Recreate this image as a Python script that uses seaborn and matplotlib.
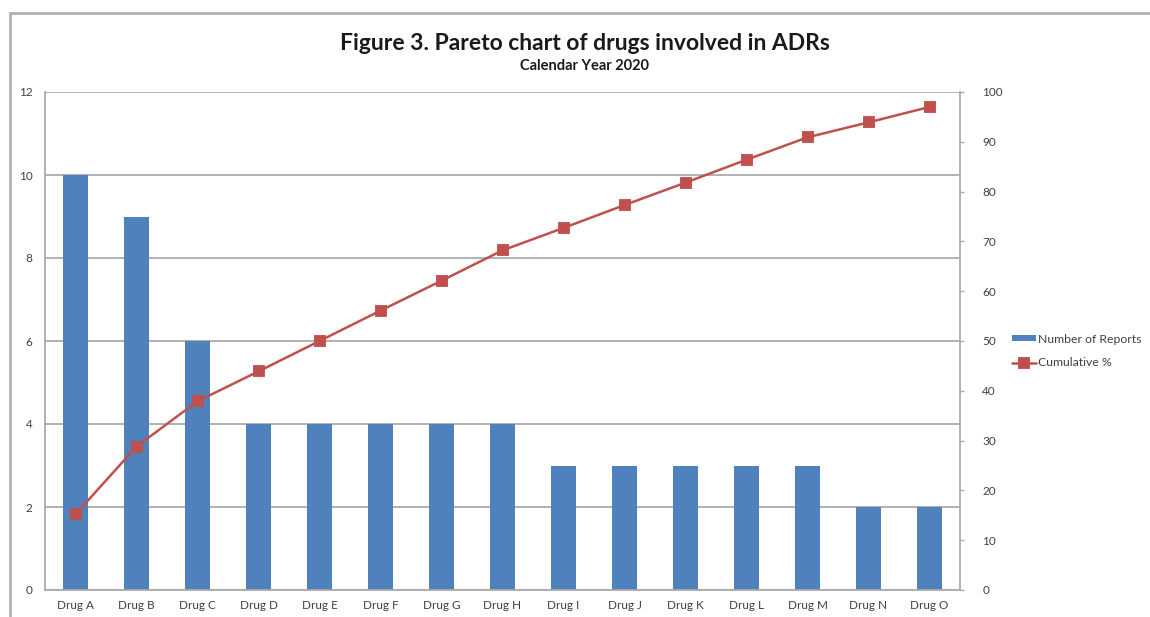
import matplotlib
matplotlib.use("Agg")
import matplotlib.pyplot as plt
from matplotlib.patches import Rectangle
import seaborn as sns
import pandas as pd

drugs = ["Drug A", "Drug B", "Drug C", "Drug D", "Drug E", "Drug F", "Drug G", "Drug H",
         "Drug I", "Drug J", "Drug K", "Drug L", "Drug M", "Drug N", "Drug O"]
reports = [10, 9, 6, 4, 4, 4, 4, 4, 3, 3, 3, 3, 3, 2, 2]
cumulative_pct = [15.2, 28.8, 37.9, 43.9, 50.0, 56.1, 62.1, 68.2, 72.7, 77.3, 81.8, 86.4, 90.9, 93.9, 97.0]
left_ticks = [0, 2, 4, 6, 8, 10, 12]
right_ticks = [0, 10, 20, 30, 40, 50, 60, 70, 80, 90, 100]

df = pd.DataFrame({"drug": drugs, "reports": reports, "cum": cumulative_pct})

sns.set_theme(style="white")
plt.rcParams["font.family"] = ["Lato", "DejaVu Sans"]

BAR = "#4F81BD"
LINE = "#C0504D"
GRID = "#ABABAB"
TXT = "#404040"

fig = plt.figure(figsize=(11.5, 6.17), dpi=100)
ax = fig.add_axes([45 / 1150, 27 / 617, 915 / 1150, 498 / 617])

sns.barplot(data=df, x="drug", y="reports", color=BAR, saturation=1, width=0.4,
            linewidth=0, ax=ax, label="Number of Reports", zorder=2)
ax.set_ylim(0, 12)
ax.set_yticks(left_ticks)
ax.yaxis.grid(True, color=GRID, linewidth=1.3, zorder=0)
ax.set_axisbelow(True)
ax.set_xlabel("")
ax.set_ylabel("")
ax.tick_params(axis="y", length=0, pad=9, labelsize=8.5, labelcolor=TXT)
ax.tick_params(axis="x", length=0, pad=7, labelsize=8.5, labelcolor=TXT)
for side in ("left", "bottom"):
    ax.spines[side].set_color(GRID)
    ax.spines[side].set_linewidth(1.3)
for side in ("top", "right"):
    ax.spines[side].set_visible(False)

ax2 = ax.twinx()
sns.pointplot(data=df, x="drug", y="cum", color=LINE, markers="s", linestyles="-",
              ax=ax2, label="Cumulative %", markersize=6.5, linewidth=1.8)
ax2.set_ylim(0, 100)
ax2.set_yticks(right_ticks)
ax2.set_ylabel("")
ax2.set_xlabel("")
ax2.tick_params(axis="y", length=3, width=1, color=GRID, pad=13, labelsize=8.5, labelcolor=TXT)
ax2.spines["right"].set_color(GRID)
ax2.spines["right"].set_linewidth(1.3)
for side in ("top", "left", "bottom"):
    ax2.spines[side].set_visible(False)
ax.set_xlim(-0.5, len(drugs) - 0.5)
ax2.set_xlim(-0.5, len(drugs) - 0.5)

h1, l1 = ax.get_legend_handles_labels()
h2, l2 = ax2.get_legend_handles_labels()
fig.legend(h1 + h2, l1 + l2, loc="center left", bbox_to_anchor=(1001 / 1150, 1 - 351 / 617),
           frameon=False, fontsize=8.8, handlelength=2.0, handleheight=0.3,
           labelspacing=1.05, handletextpad=0.1, labelcolor=TXT)
if ax.get_legend():
    ax.get_legend().remove()
if ax2.get_legend():
    ax2.get_legend().remove()

fig.text(585 / 1150, 1 - 44 / 617, "Figure 3. Pareto chart of drugs involved in ADRs",
         ha="center", va="center", fontsize=16.5, fontweight="bold", color="#1a1a1a")
fig.text(585 / 1150, 1 - 66 / 617, "Calendar Year 2020",
         ha="center", va="center", fontsize=10.5, fontweight="bold", color="#1a1a1a")

fig.patches.append(Rectangle((10 / 1150, -0.1), 1.2, 1.1 - 13 / 617,
                             transform=fig.transFigure, fill=False,
                             edgecolor="#B0B0B0", linewidth=2))

fig.savefig("out.png", dpi=100)
